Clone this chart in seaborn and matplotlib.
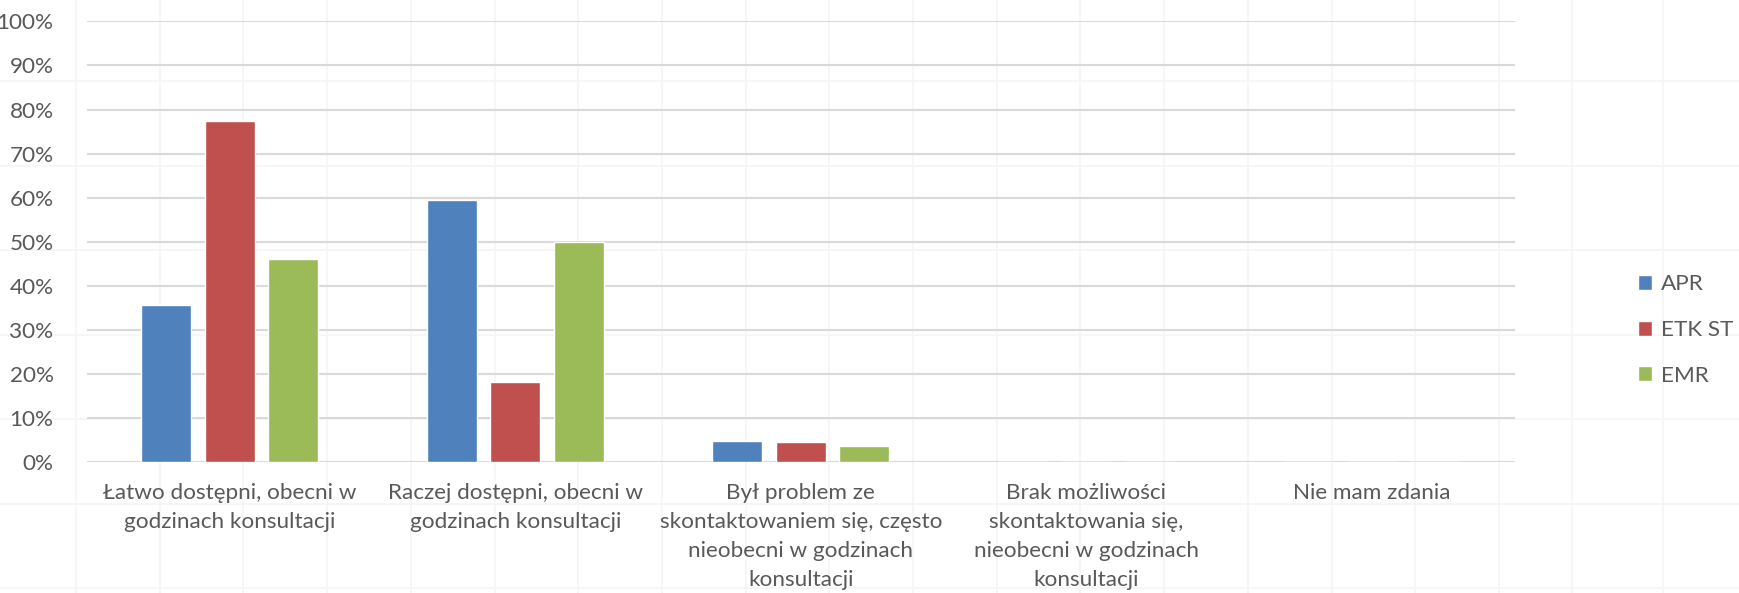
import matplotlib
matplotlib.use("Agg")
import matplotlib.pyplot as plt
from matplotlib.lines import Line2D
import seaborn as sns
import pandas as pd
from matplotlib.ticker import PercentFormatter

categories = [
    "Łatwo dostępni, obecni w\ngodzinach konsultacji",
    "Raczej dostępni, obecni w\ngodzinach konsultacji",
    "Był problem ze\nskontaktowaniem się, często\nnieobecni w godzinach\nkonsultacji",
    "Brak możliwości\nskontaktowania się,\nnieobecni w godzinach\nkonsultacji",
    "Nie mam zdania",
]
series_names = ["APR", "ETK ST", "EMR"]
apr = [35.7, 59.5, 4.8, 0.0, 0.0]
etk_st = [77.3, 18.2, 4.5, 0.0, 0.0]
emr = [46.2, 50.0, 3.8, 0.0, 0.0]
colors = ["#4F81BD", "#C0504D", "#9BBB59"]
y_ticks = list(range(0, 101, 10))

rows = []
for name, vals in zip(series_names, [apr, etk_st, emr]):
    for cat, v in zip(categories, vals):
        rows.append({"kategoria": cat, "seria": name, "wartosc": v})
df = pd.DataFrame(rows)

sns.set_theme(style="white")
plt.rcParams["font.family"] = ["Lato", "DejaVu Sans"]
text_color = "#595959"
fs = 16.2

W, H = 1739, 593
fig = plt.figure(figsize=(W / 100, H / 100), dpi=100)

# faint worksheet cell grid behind the chart
sheet_color = "#F5F5F5"
col_edges = [76 + 83.7 * k for k in range(18)] + [1572, 1663]
row_edges = [81 + 84.5 * k for k in range(7)]
for x in col_edges:
    fig.add_artist(Line2D([x / W, x / W], [0, 1], color=sheet_color, lw=1.2, zorder=-5))
for y in row_edges:
    fig.add_artist(Line2D([0, 1], [1 - y / H, 1 - y / H], color=sheet_color, lw=1.2, zorder=-5))

ax = fig.add_axes([0.050, 0.2204, 0.821, 0.7436])
ax.patch.set_alpha(0)

sns.barplot(
    data=df, x="kategoria", y="wartosc", hue="seria",
    order=categories, hue_order=series_names, palette=colors,
    width=0.6675, gap=0.213, saturation=1, errorbar=None, ax=ax,
    legend=True,
)

ax.set_ylim(0, 100)
ax.set_xlim(-0.5, len(categories) - 0.5)
ax.set_yticks(y_ticks)
ax.yaxis.set_major_formatter(PercentFormatter(decimals=0))
ax.set_axisbelow(True)
ax.grid(axis="y", color="#D9D9D9", linewidth=1.5)
ax.grid(axis="x", visible=False)
for s in ax.spines.values():
    s.set_visible(False)
ax.set_xlabel("")
ax.set_ylabel("")
ax.tick_params(axis="y", length=0, pad=24, labelsize=fs, labelcolor=text_color)
ax.tick_params(axis="x", length=0, pad=15, labelsize=fs, labelcolor=text_color)
for lbl in ax.get_xticklabels():
    lbl.set_linespacing(1.57)
    lbl.set_verticalalignment("top")

handles, labels = ax.get_legend_handles_labels()
ax.legend(
    handles, labels, loc="center left", bbox_to_anchor=(1.072, 0.30),
    frameon=False, fontsize=fs, labelcolor=text_color,
    handlelength=0.65, handleheight=0.65, handletextpad=0.4, labelspacing=1.15,
)

fig.savefig("out.png", dpi=100, facecolor="white")
